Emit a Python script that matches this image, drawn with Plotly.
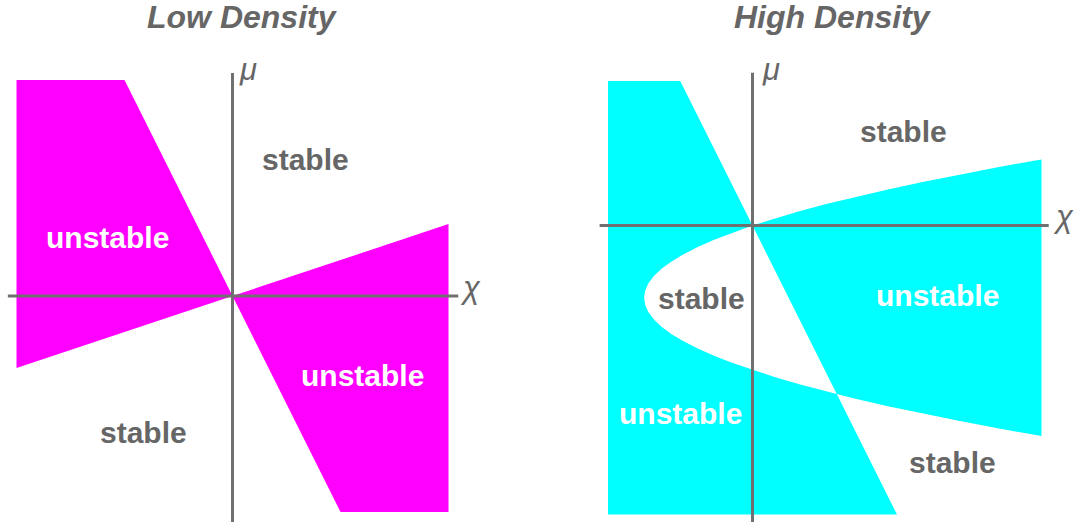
import plotly.graph_objects as go

# Low density: two wedges bounded by the lines mu = -2 chi and mu = chi/3
low_left_chi = [-1.0, -0.5, 0.0, -1.0]
low_left_mu = [1.0, 1.0, 0.0, -0.333]
low_right_chi = [0.0, 1.0, 1.0, 0.5]
low_right_mu = [0.0, 0.333, -1.0, -1.0]

# High density: parabola boundary, top branch to bottom branch
para_mu = [0.4574, 0.45, 0.40, 0.35, 0.30, 0.25, 0.20, 0.15, 0.10, 0.05, 0.0,
           -0.05, -0.10, -0.15, -0.20, -0.25, -0.30, -0.35, -0.40, -0.45, -0.50,
           -0.55, -0.60, -0.65, -0.70, -0.75, -0.80, -0.85, -0.90, -0.95, -1.00,
           -1.05, -1.10, -1.15, -1.1667, -1.20, -1.25, -1.30, -1.35, -1.40, -1.45, -1.4574]
para_chi = [2.0, 1.9575, 1.68, 1.4175, 1.17, 0.9375, 0.72, 0.5175, 0.33, 0.1575, 0.0,
            -0.1425, -0.27, -0.3825, -0.48, -0.5625, -0.63, -0.6825, -0.72, -0.7425, -0.75,
            -0.7425, -0.72, -0.6825, -0.63, -0.5625, -0.48, -0.3825, -0.27, -0.1425, 0.0,
            0.1575, 0.33, 0.5175, 0.5833, 0.72, 0.9375, 1.17, 1.4175, 1.68, 1.9575, 2.0]
# line mu = -2 chi in the high density panel
line_chi = [-0.5, 0.0, 0.5833, 1.0]
line_mu = [1.0, 0.0, -1.1667, -2.0]

low_labels = ['stable', 'unstable', 'unstable', 'stable']
low_lab_chi = [0.34, -0.58, 0.60, -0.41]
low_lab_mu = [0.63, 0.27, -0.366, -0.634]
low_lab_col = ['#666666', 'white', 'white', '#666666']

high_labels = ['stable', 'stable', 'unstable', 'unstable', 'stable']
high_lab_chi = [1.048, -0.35, 1.277, -0.495, 1.387]
high_lab_mu = [0.654, -0.502, -0.481, -1.298, -1.637]
high_lab_col = ['#666666', '#666666', 'white', 'white', '#666666']

MAGENTA = '#ff00ff'
CYAN = '#00ffff'
GREY = '#666666'
AXIS = '#707070'

W, H = 1075, 522

i0 = para_mu.index(0.0)
ix = para_mu.index(-1.1667)

# left cyan region: outside parabola, left of the line
reg1_chi = [-1.0, line_chi[0]] + para_chi[i0:ix + 1] + [line_chi[3], -1.0]
reg1_mu = [1.0, line_mu[0]] + para_mu[i0:ix + 1] + [line_mu[3], -2.0]
# right cyan region: inside parabola, right of the line
reg2_chi = para_chi[i0::-1] + para_chi[-1:ix - 1:-1] + [0.0]
reg2_mu = para_mu[i0::-1] + para_mu[-1:ix - 1:-1] + [0.0]

fig = go.Figure()

def poly(xs, ys, color, xa, ya):
    fig.add_trace(go.Scatter(x=xs, y=ys, fill='toself', fillcolor=color, mode='lines',
                             line=dict(width=0, color=color), hoverinfo='skip',
                             xaxis=xa, yaxis=ya, showlegend=False))

poly(low_left_chi, low_left_mu, MAGENTA, 'x', 'y')
poly(low_right_chi, low_right_mu, MAGENTA, 'x', 'y')
poly(reg1_chi, reg1_mu, CYAN, 'x2', 'y2')
poly(reg2_chi, reg2_mu, CYAN, 'x2', 'y2')

# axes as lines
axis_lines = [
    ('x', 'y', [-1.04, 1.045], [0, 0]),
    ('x', 'y', [0, 0], [-1.1, 1.032]),
    ('x2', 'y2', [-1.058, 2.05], [0, 0]),
    ('x2', 'y2', [0, 0], [-2.1, 1.057]),
]
for xa, ya, xs, ys in axis_lines:
    fig.add_trace(go.Scatter(x=xs, y=ys, mode='lines', line=dict(color=AXIS, width=3),
                             hoverinfo='skip', xaxis=xa, yaxis=ya, showlegend=False))

lab_font = dict(family='Liberation Sans, Arial', size=30)
for t, cx, cy, c in zip(low_labels, low_lab_chi, low_lab_mu, low_lab_col):
    fig.add_annotation(x=cx, y=cy, xref='x', yref='y', text='<b>%s</b>' % t,
                       showarrow=False, font=dict(lab_font, color=c))
for t, cx, cy, c in zip(high_labels, high_lab_chi, high_lab_mu, high_lab_col):
    fig.add_annotation(x=cx, y=cy, xref='x2', yref='y2', text='<b>%s</b>' % t,
                       showarrow=False, font=dict(lab_font, color=c))

sym_font = dict(family='Liberation Sans, Arial', size=31, color=GREY)
fig.add_annotation(x=0.072, y=1.05, xref='x', yref='y', text='<i>μ</i>', showarrow=False,
                   xanchor='center', yanchor='middle', font=sym_font)
fig.add_annotation(x=1.104, y=0.04, xref='x', yref='y', text='<i>χ</i>', showarrow=False,
                   xanchor='center', yanchor='middle', font=sym_font)
fig.add_annotation(x=0.128, y=1.08, xref='x2', yref='y2', text='<i>μ</i>', showarrow=False,
                   xanchor='center', yanchor='middle', font=sym_font)
fig.add_annotation(x=2.149, y=0.06, xref='x2', yref='y2', text='<i>χ</i>', showarrow=False,
                   xanchor='center', yanchor='middle', font=sym_font)

title_font = dict(family='Liberation Sans, Arial', size=32, color=GREY)
fig.add_annotation(x=242 / W, y=1 - 17 / H, xref='paper', yref='paper',
                   text='<b><i>Low Density</i></b>', showarrow=False, font=title_font,
                   xanchor='center', yanchor='middle')
fig.add_annotation(x=833 / W, y=1 - 17 / H, xref='paper', yref='paper',
                   text='<b><i>High Density</i></b>', showarrow=False, font=title_font,
                   xanchor='center', yanchor='middle')

hide = dict(visible=False, showgrid=False, zeroline=False, fixedrange=True)
fig.update_layout(
    width=W, height=H,
    margin=dict(l=0, r=0, t=0, b=0),
    paper_bgcolor='white', plot_bgcolor='white',
    xaxis=dict(hide, domain=[0, 480 / W], range=[-232.5 / 216, 247.5 / 216]),
    yaxis=dict(hide, domain=[0, 1], range=[-226 / 216, 296 / 216]),
    xaxis2=dict(hide, domain=[582 / W, 1], range=[-170.5 / 144.5, 322.5 / 144.5]),
    yaxis2=dict(hide, domain=[0, 1], range=[-296.5 / 144.5, 225.5 / 144.5], anchor='x2'),
)
fig.write_html('out.html', config={'displayModeBar': False},
               post_script="document.body.style.margin='0';document.body.style.overflow='hidden';")
